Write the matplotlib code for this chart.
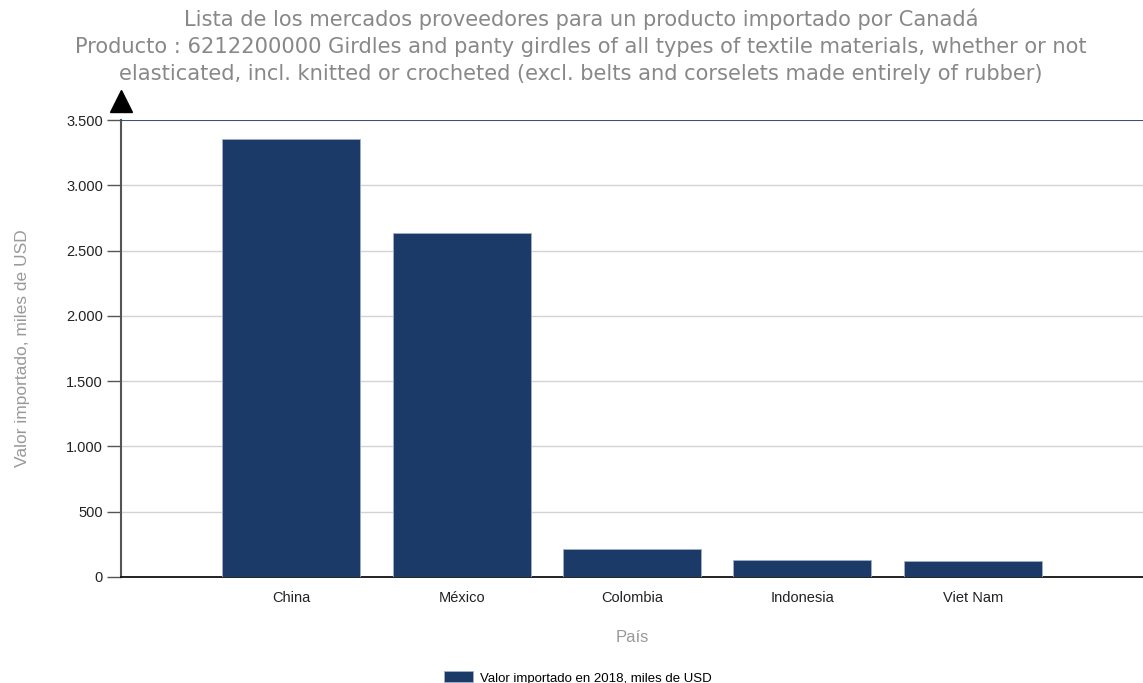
import matplotlib.pyplot as plt
from matplotlib.ticker import FuncFormatter

paises = ['China', 'México', 'Colombia', 'Indonesia', 'Viet Nam']
valores = [3355, 2638, 214, 131, 122]
yticks = [0, 500, 1000, 1500, 2000, 2500, 3000, 3500]

titulo = ('Lista de los mercados proveedores para un producto importado por Canadá\n'
          'Producto : 6212200000 Girdles and panty girdles of all types of textile materials, whether or not\n'
          'elasticated, incl. knitted or crocheted (excl. belts and corselets made entirely of rubber)')

W, H = 1143, 683
fig = plt.figure(figsize=(W / 100, H / 100), dpi=100)
ax = fig.add_axes([121 / W, 1 - 577 / H, (W - 121) / W, 457 / H])

bar_color = '#1c3a68'
x = list(range(len(paises)))
ax.bar(x, valores, width=0.81, color=bar_color, edgecolor='#9fb0c8', linewidth=0.6, zorder=3, label='Valor importado en 2018, miles de USD')
ax.set_xlim(-1, 5)
ax.set_ylim(0, 3500)

ax.set_yticks(yticks)
ax.yaxis.set_major_formatter(FuncFormatter(lambda v, p: '{:,.0f}'.format(v).replace(',', '.')))
ax.set_xticks(x)
ax.set_xticklabels(paises)
ax.tick_params(axis='y', length=10, width=1, color='#555555', labelsize=10.5, pad=3)
ax.tick_params(axis='x', length=0, labelsize=10.5, pad=10)
for lab in ax.get_xticklabels() + ax.get_yticklabels():
    lab.set_fontfamily('Liberation Sans')
    lab.set_color('#222222')

ax.grid(axis='y', color='#d3d3d3', linewidth=1, zorder=0)
ax.axhline(3500, color='#1c3a68', linewidth=1.2, zorder=4)
for s in ['top', 'right']:
    ax.spines[s].set_visible(False)
ax.spines['left'].set_color('#555555')
ax.spines['left'].set_linewidth(1.5)
ax.spines['bottom'].set_color('#111111')
ax.spines['bottom'].set_linewidth(1.3)

# flecha en el eje y
ax.plot([-1], [1.0 + 19 / 457], marker='^', markersize=16, color='black', transform=ax.get_xaxis_transform(),
        clip_on=False, zorder=5)

ax.set_ylabel('Valor importado, miles de USD', fontsize=12.5, color='#999999', fontfamily='Liberation Sans', labelpad=26)
ax.set_xlabel('País', fontsize=12, color='#999999', fontfamily='Liberation Sans', labelpad=18)

fig.text(581 / W, 1 - 9 / H, titulo, ha='center', va='top', fontsize=15.1, color='#888888',
         fontfamily='DejaVu Sans', linespacing=1.42)

fig.legend(loc='center', bbox_to_anchor=(578 / W, 1 - 678 / H), frameon=False,
           prop={'family': 'Liberation Sans', 'size': 9.5}, handlelength=2.2, handleheight=0.9, handletextpad=0.5)

fig.savefig('out.png', dpi=100)
